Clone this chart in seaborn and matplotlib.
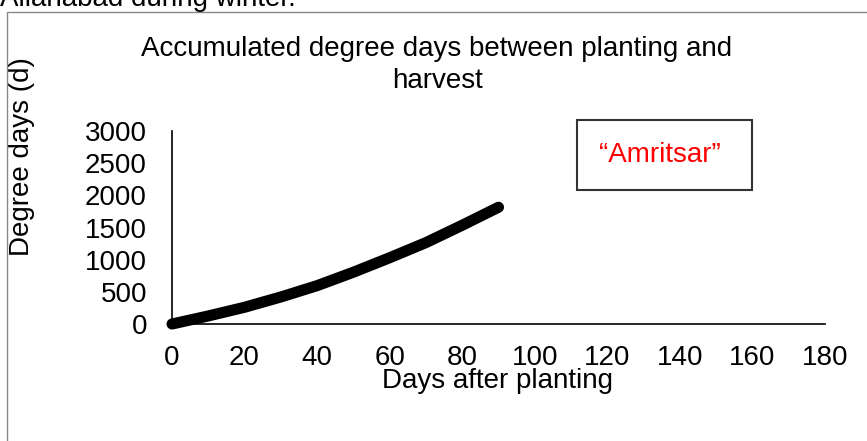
import matplotlib
matplotlib.use("Agg")
import matplotlib.pyplot as plt
import matplotlib.patches as mpatches
import seaborn as sns

# values
days = [0, 10, 20, 30, 40, 50, 60, 70, 80, 90]
degree_days = [0, 125, 260, 420, 596, 805, 1030, 1265, 1535, 1815]
series_name = "\u201cAmritsar\u201d"
x_ticks = [0, 20, 40, 60, 80, 100, 120, 140, 160, 180]
y_ticks = [0, 500, 1000, 1500, 2000, 2500, 3000]

sns.set_theme(style="white")
plt.rcParams['font.family'] = ['Liberation Sans', 'DejaVu Sans']
plt.rcParams['text.color'] = 'black'
plt.rcParams['axes.labelcolor'] = 'black'

fs = 20

fig = plt.figure(figsize=(8.67, 4.41), dpi=100)
ax = fig.add_axes([172 / 867, 1 - 324 / 441, 653 / 867, 193 / 441])

sns.lineplot(x=days, y=degree_days, color='black', linewidth=8,
             solid_capstyle='round', label=series_name, ax=ax, clip_on=False)

ax.set_xlim(0, 180)
ax.set_ylim(0, 3000)
ax.set_xticks(x_ticks)
ax.set_yticks(y_ticks)
ax.tick_params(axis='both', direction='out', length=5, width=1, color='#555555',
               labelsize=fs, labelcolor='black')
ax.tick_params(axis='y', pad=13)
ax.tick_params(axis='x', pad=10)
sns.despine(ax=ax)
for side in ['left', 'bottom']:
    ax.spines[side].set_color('black')
    ax.spines[side].set_linewidth(1.2)

ax.set_xlabel('Days after planting', fontsize=fs)
ax.set_ylabel('Degree days (d)', fontsize=fs)
ax.xaxis.set_label_coords(0.498, -0.23)
ax.yaxis.set_label_coords(-0.21, 0.865)

fig.text(437 / 867, 1 - 65 / 441,
         'Accumulated degree days between planting and\nharvest',
         ha='center', va='center', fontsize=fs, linespacing=1.25)

# caption line cut off at the top of the picture
fig.text(0.0, 1 - 6 / 441, 'Allahabad during winter.', ha='left', va='baseline',
         fontsize=fs)

leg = ax.legend(loc='upper left', bbox_to_anchor=(577 / 867, 1 - 120 / 441),
                bbox_transform=fig.transFigure, borderaxespad=0, frameon=True,
                fancybox=False, markerfirst=False, handlelength=0.3,
                handletextpad=0.0, borderpad=0.8, fontsize=fs, labelcolor='red')
leg.get_frame().set_edgecolor('black')
leg.get_frame().set_linewidth(1.5)
for h in leg.legend_handles:
    h.set_visible(False)

# outer chart frame
frame = mpatches.Rectangle((7 / 867, -0.1), 1.0, 1.1 - 12 / 441,
                           transform=fig.transFigure, fill=False,
                           edgecolor='#888888', linewidth=1)
fig.patches.append(frame)

fig.savefig('out.png', dpi=100)
